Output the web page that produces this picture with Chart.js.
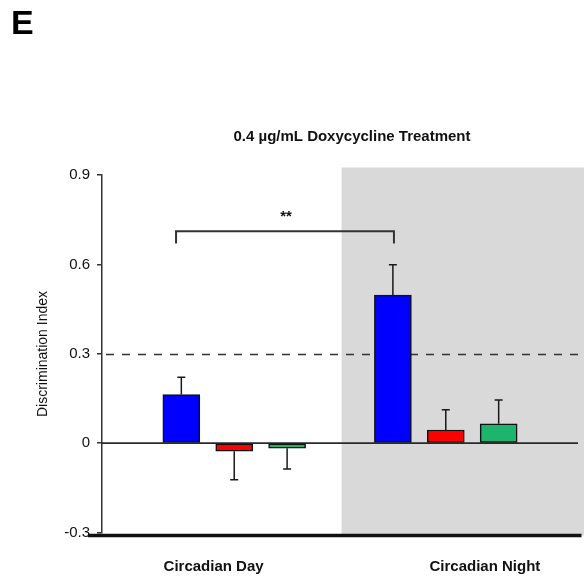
<!DOCTYPE html>
<html>
<head>
<meta charset="utf-8">
<script src="https://cdn.jsdelivr.net/npm/chart.js@4/dist/chart.umd.min.js"></script>
<style>
  html, body { margin: 0; padding: 0; background: #fff; }
  #wrap { width: 584px; height: 579px; }
</style>
</head>
<body>
<div id="wrap"><canvas id="c" width="584" height="579"></canvas></div>
<script>
// Panel texts
const panelLetter = 'E';
const chartTitle = '0.4 µg/mL Doxycycline Treatment';
const yTitle = 'Discrimination Index';
const groups = ['Circadian Day', 'Circadian Night'];

// Three groups per phase (blue, red, green)
const barColors = ['#0000ff', '#ff0000', '#1db46e'];
const dayMeans = [0.163, -0.027, -0.017];
const daySem = [0.058, 0.096, 0.070];
const nightMeans = [0.497, 0.044, 0.065];
const nightSem = [0.102, 0.068, 0.080];

// Axis ticks and reference level
const yTicks = [-0.3, 0, 0.3, 0.6, 0.9];
const chanceLevel = 0.3;
const significance = '**';

// Nine slots on the x axis: an empty slot at each end and between phases
const slotValues = [null, ...dayMeans, null, ...nightMeans, null];
const slotSem = [null, ...daySem, null, ...nightSem, null];
const slotColors = ['#fff', ...barColors, '#fff', ...barColors, '#fff'];
const slotKeys = slotValues.map((_, i) => 'slot' + i);

const FONT = "'Liberation Sans', Arial, sans-serif";

const decor = {
  id: 'decor',
  beforeDraw(chart) {
    const { ctx, chartArea: a, scales: { x } } = chart;
    ctx.save();
    ctx.fillStyle = '#fff';
    ctx.fillRect(0, 0, chart.width, chart.height);
    // shaded night phase
    const gx = x.getPixelForValue(4.03);
    ctx.fillStyle = '#d9d9d9';
    ctx.fillRect(gx, a.top - 7.5, chart.width - gx, a.bottom + 3 - (a.top - 7.5));
    ctx.restore();
  },
  beforeDatasetsDraw(chart) {
    const { ctx, chartArea: a, scales: { y } } = chart;
    ctx.save();
    // reference level
    const yc = Math.round(y.getPixelForValue(chanceLevel)) + 0.5;
    ctx.strokeStyle = '#333';
    ctx.lineWidth = 1.5;
    ctx.setLineDash([8, 8]);
    ctx.beginPath();
    ctx.moveTo(a.left + 4, yc);
    ctx.lineTo(chart.width, yc);
    ctx.stroke();
    ctx.setLineDash([]);
    // zero line
    const y0 = y.getPixelForValue(0);
    ctx.lineWidth = 1.6;
    ctx.strokeStyle = '#2a2a2a';
    ctx.beginPath();
    ctx.moveTo(a.left, y0);
    ctx.lineTo(a.right, y0);
    ctx.stroke();
    ctx.restore();
  },
  afterDatasetsDraw(chart) {
    const { ctx, chartArea: a, scales: { x, y } } = chart;
    ctx.save();
    // error bars (one-sided, away from zero)
    ctx.strokeStyle = '#1a1a1a';
    ctx.lineWidth = 1.5;
    slotValues.forEach((v, i) => {
      if (v === null) return;
      const s = slotSem[i];
      const px = x.getPixelForValue(i);
      const yb = y.getPixelForValue(v);
      const ye = y.getPixelForValue(v + Math.sign(v) * s);
      ctx.beginPath();
      ctx.moveTo(px, yb);
      ctx.lineTo(px, ye);
      ctx.moveTo(px - 4, ye);
      ctx.lineTo(px + 4, ye);
      ctx.stroke();
    });

    // significance bracket between day and night blue bars
    const bl = x.getPixelForValue(0.9);
    const br = x.getPixelForValue(5.02);
    const bt = y.getPixelForValue(0.711);
    const bb = y.getPixelForValue(0.670);
    ctx.strokeStyle = '#333';
    ctx.lineWidth = 2;
    ctx.beginPath();
    ctx.moveTo(bl, bb);
    ctx.lineTo(bl, bt);
    ctx.lineTo(br, bt);
    ctx.lineTo(br, bb);
    ctx.stroke();
    ctx.fillStyle = '#111';
    ctx.font = 'bold 15px ' + FONT;
    ctx.textAlign = 'center';
    ctx.textBaseline = 'alphabetic';
    ctx.fillText(significance, (bl + br) / 2 + 1, bt - 10);

    // heavy baseline under the plot
    ctx.strokeStyle = '#111';
    ctx.lineWidth = 3.5;
    ctx.beginPath();
    ctx.moveTo(88, a.bottom + 3);
    ctx.lineTo(581.5, a.bottom + 3);
    ctx.stroke();

    // phase labels
    ctx.font = 'bold 15px ' + FONT;
    ctx.textBaseline = 'middle';
    ctx.fillStyle = '#111';
    const labelSlots = [1.61, 6.74];
    groups.forEach((g, i) => {
      ctx.fillText(g, x.getPixelForValue(labelSlots[i]), a.bottom + 34);
    });

    // title
    ctx.font = 'bold 15px ' + FONT;
    ctx.fillText(chartTitle, 352, 137);

    // panel letter
    ctx.textAlign = 'left';
    ctx.textBaseline = 'alphabetic';
    ctx.font = 'bold 34px ' + FONT;
    ctx.fillStyle = '#000';
    ctx.fillText(panelLetter, 11, 33.5);

    // y axis title
    ctx.translate(43, 354);
    ctx.rotate(-Math.PI / 2);
    ctx.textAlign = 'center';
    ctx.textBaseline = 'middle';
    ctx.font = '14px ' + FONT;
    ctx.fillStyle = '#111';
    ctx.fillText(yTitle, 0, 0);
    ctx.restore();
  }
};

new Chart(document.getElementById('c'), {
  type: 'bar',
  data: {
    labels: slotKeys,
    datasets: [{
      data: slotValues,
      backgroundColor: slotColors,
      borderColor: '#111',
      borderWidth: 1.5,
      borderSkipped: false,
      barThickness: 37,
      categoryPercentage: 1,
      barPercentage: 1
    }]
  },
  options: {
    responsive: false,
    animation: false,
    devicePixelRatio: 1,
    layout: { padding: { top: 175, right: 6, bottom: 46.5, left: 0 } },
    plugins: { legend: { display: false }, tooltip: { enabled: false }, title: { display: false } },
    scales: {
      x: { type: 'category', display: false, offset: true },
      y: {
        min: -0.3,
        max: 0.9,
        afterBuildTicks(scale) { scale.ticks = yTicks.map(v => ({ value: v })); },
        afterFit(scale) { scale.width = 102; },
        grid: { drawOnChartArea: false, drawTicks: true, tickLength: 5, color: '#333', lineWidth: 1.5 },
        border: { display: true, color: '#333', width: 1.5 },
        ticks: {
          padding: 7,
          color: '#111',
          font: { size: 15, family: FONT },
          callback: v => (v === 0 ? '0' : v.toFixed(1))
        }
      }
    }
  },
  plugins: [decor]
});
</script>
</body>
</html>
